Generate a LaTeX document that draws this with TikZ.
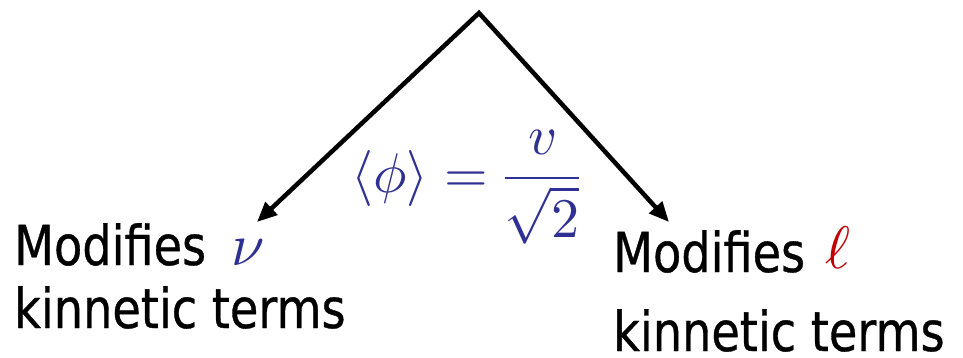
\documentclass[tikz,border=0pt]{standalone}
\usepackage{fontspec}
\usepackage{unicode-math}
\newfontfamily\labelfont[FakeStretch=0.84,FakeBold=0.6]{DejaVu Sans}
\definecolor{eqblue}{RGB}{46,49,146}
\definecolor{ellred}{RGB}{192,0,0}
\usetikzlibrary{arrows.meta}
\begin{document}
\begin{tikzpicture}[x=1pt,y=-1pt,
  lbl/.style={font=\labelfont\fontsize{55}{66}\selectfont, inner sep=0, anchor=base west},
  sym/.style={font=\fontsize{60}{60}\selectfont, inner sep=0, anchor=base west},
  arr/.style={line width=4.5pt, line join=miter,
    {Triangle[length=20pt,width=17pt]}-{Triangle[length=20pt,width=17pt]}}]
\useasboundingbox (0,0) rectangle (963,357);
\coordinate (apex) at (479,13);
\coordinate (ltip) at (257,222);
\coordinate (rtip) at (669,222);
\draw[arr] (ltip) -- (apex) -- (rtip);
\node[lbl] (lmod) at (14,265) {Modifies};
\node[sym, text=eqblue] (lnu) at (231,265) {$\nu$};
\node[lbl] (lkin) at (14,328) {kinnetic terms};
\node[lbl] (rmod) at (613,272) {Modifies};
\node[sym, text=ellred] (rell) at (825,268) {$\ell$};
\node[lbl] (rkin) at (613,351) {kinnetic terms};
\node[text=eqblue, inner sep=0, font=\fontsize{56}{66}\selectfont] (eq) at (466,187)
  {$\langle\phi\rangle=\displaystyle\frac{v}{\sqrt{2}}$};
\end{tikzpicture}
\end{document}
